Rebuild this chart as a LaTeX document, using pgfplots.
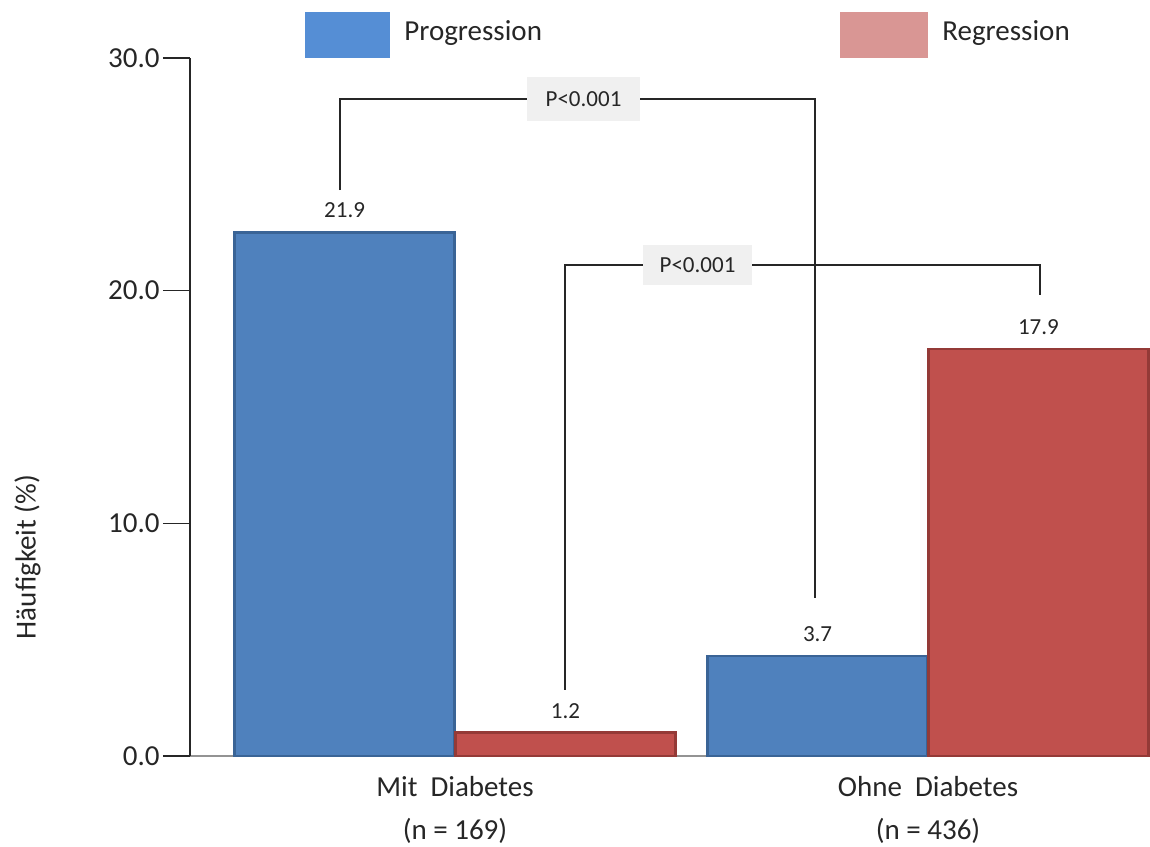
\documentclass[border=0pt]{standalone}
\usepackage{fontspec}
\setmainfont{Carlito}
\usepackage{pgfplots}
\usepackage{pgfplotstable}
\pgfplotsset{compat=1.18}
\definecolor{barblue}{HTML}{4F81BD}
\definecolor{barblueD}{HTML}{3A6496}
\definecolor{barred}{HTML}{C0504D}
\definecolor{barredD}{HTML}{943A37}
\definecolor{legblue}{HTML}{558ED5}
\definecolor{legred}{HTML}{D99694}
\definecolor{pbox}{HTML}{F0F0F0}

\pgfplotstableread{
x y label
-0.2335 22.5 21.9
0.7665 4.3 3.7
}\progtable
\pgfplotstableread{
x y label
0.2335 1.0 1.2
1.2335 17.5 17.9
}\regtable

\begin{document}
\begin{tikzpicture}
\begin{axis}[
  scale only axis, width=480pt, height=349pt,
  xmin=-0.5603, xmax=1.4693, ymin=0, ymax=30,
  axis lines=left, axis line style={-},
  x axis line style={draw=gray!85, line width=1.2pt},
  y axis line style={draw=black!85, line width=0.8pt},
  clip=false,
  ytick={0,10,20,30}, ytick pos=left, tick align=outside, major tick length=13.5pt,
  ytick style={draw=black!85, line width=0.8pt},
  yticklabel style={font=\fontsize{14.5}{17}\selectfont, text=black!85, inner sep=1.5pt,
    /pgf/number format/.cd, fixed, fixed zerofill, precision=1, assume math mode=true},
  xtick={0,1},
  xticklabels={{Mit~~Diabetes\\(n = 169)},{Ohne~~Diabetes\\(n = 436)}},
  xtick style={draw=none},
  xticklabel style={align=center, font=\fontsize{14.5}{21.5}\selectfont, text=black!85, anchor=north, inner sep=0pt},
  x tick label style={yshift=3.5pt},
]
% brackets
\addplot[black!85, line width=0.75pt, sharp plot, no marks, forget plot]
  coordinates {(-0.243,24.32) (-0.243,28.23) (0.761,28.23) (0.761,6.79)};
\addplot[black!85, line width=0.75pt, sharp plot, no marks, forget plot]
  coordinates {(0.2326,2.84) (0.2326,21.10) (1.237,21.10) (1.237,19.81)};
\node[fill=pbox, minimum width=56.5pt, minimum height=22pt, inner sep=0pt,
  font=\fontsize{11.5}{13}\selectfont, text=black!85] at (axis cs:0.2717,28.23) {P<0.001};
\node[fill=pbox, minimum width=54.5pt, minimum height=20pt, inner sep=0pt,
  font=\fontsize{11.5}{13}\selectfont, text=black!85] at (axis cs:0.5127,21.10) {P<0.001};
% bars
\addplot[ybar, bar width=0.465, bar shift=0, fill=barblue, draw=barblueD, line width=1.3pt,
  nodes near coords, point meta=explicit symbolic,
  every node near coord/.append style={font=\fontsize{11.5}{13}\selectfont, text=black!85, inner sep=0pt, anchor=south, yshift=6.5pt}]
  table[x=x, y=y, meta=label] {\progtable};
\addplot[ybar, bar width=0.465, bar shift=0, fill=barred, draw=barredD, line width=1.3pt,
  nodes near coords, point meta=explicit symbolic,
  every node near coord/.append style={font=\fontsize{11.5}{13}\selectfont, text=black!85, inner sep=0pt, anchor=south, yshift=6.5pt}]
  table[x=x, y=y, meta=label] {\regtable};
% legend
\fill[legblue] (rel axis cs:0.1198,1.0) rectangle (rel axis cs:0.2083,1.0659);
\node[anchor=west, inner sep=0pt, font=\fontsize{14.5}{17}\selectfont, text=black!85] at (rel axis cs:0.2229,1.0358) {Progression};
\fill[legred] (rel axis cs:0.677,1.0) rectangle (rel axis cs:0.769,1.0659);
\node[anchor=west, inner sep=0pt, font=\fontsize{14.5}{17}\selectfont, text=black!85] at (rel axis cs:0.7833,1.0358) {Regression};
% y label
\node[rotate=90, inner sep=0pt, font=\fontsize{14.5}{17}\selectfont, text=black!85] at (rel axis cs:-0.1693,0.285) {Häufigkeit (\%)};
\coordinate (bbl) at (rel axis cs:-0.19792,-0.13037);
\coordinate (btr) at (rel axis cs:1.0,1.08309);
\end{axis}
\pgfresetboundingbox
\useasboundingbox (bbl) rectangle (btr);
\end{tikzpicture}
\end{document}
